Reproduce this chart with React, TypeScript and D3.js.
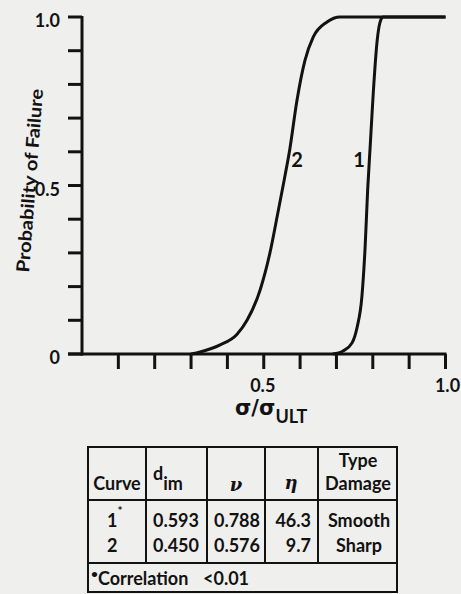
import React from "react";
import * as d3 from "d3";

// Data
const curve1X = [0.69, 0.718, 0.743, 0.757, 0.77, 0.779, 0.786, 0.793, 0.801, 0.812, 0.82, 0.828, 1.0];
const curve1P = [0.0, 0.009, 0.033, 0.08, 0.17, 0.32, 0.49, 0.62, 0.77, 0.93, 0.985, 1.0, 1.0];
const curve2X = [0.3, 0.325, 0.38, 0.426, 0.454, 0.49, 0.517, 0.539, 0.556, 0.572, 0.591, 0.613, 0.636, 0.674, 0.71, 1.0];
const curve2P = [0.0, 0.006, 0.027, 0.058, 0.1, 0.19, 0.3, 0.42, 0.515, 0.61, 0.75, 0.87, 0.94, 0.985, 1.0, 1.0];
const curveNames = ["1", "2"];
const yTickValues = d3.range(0, 11).map((i) => i / 10);
const xTickValues = d3.range(1, 11).map((i) => i / 10);
const yTickLabels = [
  { v: 1.0, t: "1.0" },
  { v: 0.5, t: "0.5" },
  { v: 0, t: "0" },
];
const xTickLabels = [
  { v: 0.5, t: "0.5" },
  { v: 1.0, t: "1.0" },
];
const tableCurve = ["1", "2"];
const tableDim = ["0.593", "0.450"];
const tableNu = ["0.788", "0.576"];
const tableEta = ["46.3", "9.7"];
const tableType = ["Smooth", "Sharp"];

const FONT = "Lato, 'Open Sans', 'DejaVu Sans', sans-serif";
const INK = "#121212";

export default function App() {
  const x = d3.scaleLinear().domain([0, 1]).range([82, 445.5]);
  const y = d3.scaleLinear().domain([0, 1]).range([354, 17]);
  const line = d3
    .line<[number, number]>()
    .x((d) => x(d[0]))
    .y((d) => y(d[1]))
    .curve(d3.curveMonotoneX);
  const c1: [number, number][] = curve1X.map((v, i) => [v, curve1P[i]]);
  const c2: [number, number][] = curve2X.map((v, i) => [v, curve2P[i]]);

  // table geometry
  const tl = 88, tr = 397, tt = 447, th = 500, td = 563, tb = 592;
  const cols = [146, 207, 265, 318];
  const rowBase = [527, 552];

  return (
    <svg
      width={461}
      height={594}
      style={{ position: "absolute", left: 0, top: 0, display: "block" }}
      fontFamily={FONT}
    >
      <rect x={0} y={0} width={461} height={594} fill="#efefed" />
      {/* axes */}
      <g stroke={INK} strokeWidth={3} strokeLinecap="butt">
        <line x1={x(0)} y1={y(0) + 1.5} x2={x(0)} y2={y(1) - 1} />
        <line x1={68} y1={y(0)} x2={x(1) + 1} y2={y(0)} />
        {yTickValues.map((v) => (
          <line key={"yt" + v} x1={68} y1={y(v)} x2={x(0)} y2={y(v)} />
        ))}
        {xTickValues.map((v) => (
          <line key={"xt" + v} x1={x(v)} y1={y(0)} x2={x(v)} y2={y(0) + 15} />
        ))}
      </g>
      {/* y tick labels */}
      {yTickLabels.map((d) => (
        <text
          key={"yl" + d.t}
          x={60}
          y={y(d.v) + 10}
          textAnchor="end"
          fontSize={18}
          fontWeight="bold"
          fill={INK}
        >
          {d.t}
        </text>
      ))}
      {/* x tick labels */}
      {xTickLabels.map((d) => (
        <text
          key={"xl" + d.t}
          x={x(d.v) + (d.v === 1 ? 2 : -1)}
          y={392}
          textAnchor="middle"
          fontSize={18}
          fontWeight="bold"
          fill={INK}
        >
          {d.t}
        </text>
      ))}
      {/* x axis title */}
      <text x={235} y={415} fontSize={21} fontWeight="bold" fill={INK} fontFamily="'DejaVu Sans', sans-serif">
        σ/σ
        <tspan dy={8} fontSize={18} fontFamily={FONT}>ULT</tspan>
      </text>
      {/* y axis title */}
      <text
        transform="translate(36,181) rotate(-85.6)"
        textAnchor="middle"
        fontSize={18}
        fontWeight="bold"
        fill={INK}
        textLength={184}
        lengthAdjust="spacingAndGlyphs"
      >
        Probability of Failure
      </text>
      {/* curves */}
      <path d={line(c2) || ""} fill="none" stroke={INK} strokeWidth={3} strokeLinejoin="round" />
      <path d={line(c1) || ""} fill="none" stroke={INK} strokeWidth={3} strokeLinejoin="round" />
      <text x={297} y={167} textAnchor="middle" fontSize={20} fontWeight="bold" fill={INK}>
        {curveNames[1]}
      </text>
      <text x={359} y={167} textAnchor="middle" fontSize={20} fontWeight="bold" fill={INK}>
        {curveNames[0]}
      </text>
      {/* table */}
      <g stroke={INK} strokeWidth={2} fill="none">
        <rect x={tl} y={tt} width={tr - tl} height={tb - tt} />
        <line x1={tl} y1={th} x2={tr} y2={th} />
        <line x1={tl} y1={td} x2={tr} y2={td} />
        {cols.map((c) => (
          <line key={"c" + c} x1={c} y1={tt} x2={c} y2={td} />
        ))}
      </g>
      <g fontSize={18} fontWeight="bold" fill={INK}>
        <text x={117} y={490} textAnchor="middle">Curve</text>
        <text x={153} y={480}>
          d<tspan dy={10}>im</tspan>
        </text>
        <text x={236} y={491} textAnchor="middle" fontFamily="'DejaVu Serif', serif" fontStyle="italic" fontSize={18}>ν</text>
        <text x={291} y={489} textAnchor="middle" fontFamily="'DejaVu Serif', serif" fontStyle="italic" fontSize={18}>η</text>
        <text x={358} y={467} textAnchor="middle">Type</text>
        <text x={358} y={490} textAnchor="middle">Damage</text>
        {rowBase.map((b, i) => (
          <g key={"r" + i}>
            <text x={107} y={b}>
              {tableCurve[i]}
              {i === 0 ? <tspan dy={-12} fontSize={12}>*</tspan> : null}
            </text>
            <text x={176} y={b} textAnchor="middle">{tableDim[i]}</text>
            <text x={237} y={b} textAnchor="middle">{tableNu[i]}</text>
            <text x={311} y={b} textAnchor="end">{tableEta[i]}</text>
            <text x={359} y={b} textAnchor="middle">{tableType[i]}</text>
          </g>
        ))}
        <text x={91} y={585}>
          <tspan fontSize={12} dy={-7}>•</tspan>
          <tspan dy={7}>Correlation</tspan>
          <tspan x={203}>&lt;0.01</tspan>
        </text>
      </g>
    </svg>
  );
}
